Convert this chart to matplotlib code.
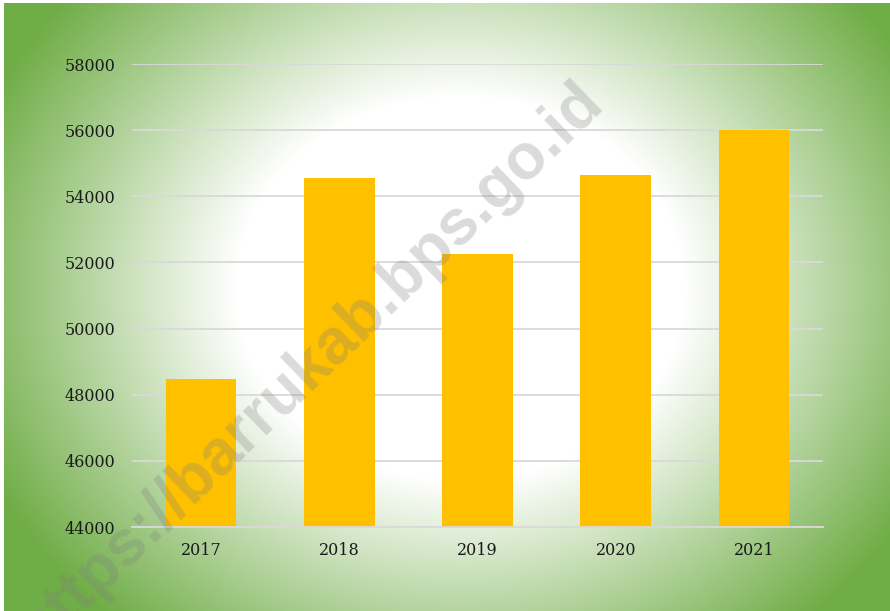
import numpy as np
import matplotlib
matplotlib.use("Agg")
import matplotlib.pyplot as plt

years = ["2017", "2018", "2019", "2020", "2021"]
values = [48480, 54550, 52260, 54640, 56010]
y_ticks = [44000, 46000, 48000, 50000, 52000, 54000, 56000, 58000]

W, H = 890, 611
fig = plt.figure(figsize=(W / 100, H / 100), dpi=100, facecolor="white")

# gradient background
bg = fig.add_axes([4 / W, 0, (W - 4) / W, (H - 3) / H])
bg.set_axis_off()
h, w = H - 3, W - 4
yy, xx = np.mgrid[0:h, 0:w]
cx, cy = 456, 285
dx = (xx - cx) / 280.0
dy = (yy - cy) / 240.0
r = np.sqrt(dx ** 2 + dy ** 2)
t = np.clip((r - 0.8) / 1.05, 0, 1)
white = np.array([1.0, 1.0, 1.0])
green = np.array([0x70, 0xAD, 0x47]) / 255
img = white[None, None, :] * (1 - t[..., None]) + green[None, None, :] * t[..., None]
bg.imshow(img, aspect="auto", extent=[0, 1, 0, 1], origin="upper")
bg.set_xlim(0, 1)
bg.set_ylim(0, 1)

ax = fig.add_axes([132 / W, 84 / H, 691 / W, 463 / H])
ax.patch.set_alpha(0)
x = np.arange(len(years))
ax.bar(x, values, width=0.51, color="#FFC000", zorder=3)
ax.set_xlim(-0.5, len(years) - 0.5)
ax.set_ylim(44000, 58000)
ax.set_yticks(y_ticks)
ax.set_yticklabels([str(v) for v in y_ticks])
ax.set_xticks(x)
ax.set_xticklabels(years)
ax.grid(axis="y", color="#d9d9d9", linewidth=1.3, zorder=1)
ax.set_axisbelow(True)
for s in ["top", "right", "left"]:
    ax.spines[s].set_visible(False)
ax.spines["bottom"].set_color("#d9d9d9")
ax.spines["bottom"].set_linewidth(1.3)
ax.spines["bottom"].set_zorder(4)
ax.tick_params(axis="both", length=0, labelsize=11.5, labelcolor="#1a1a1a")
ax.tick_params(axis="y", pad=12)
ax.tick_params(axis="x", pad=11)
for lab in ax.get_xticklabels() + ax.get_yticklabels():
    lab.set_fontfamily("DejaVu Serif")

fig.text(310 / W, 1 - 366 / H, "https://barrukab.bps.go.id", rotation=44,
         rotation_mode="anchor", ha="center", va="center",
         fontsize=46, fontweight="bold", family="Liberation Sans",
         color="#7f7f7f", alpha=0.28, zorder=10)

fig.savefig("out.png", dpi=100, facecolor="white")
